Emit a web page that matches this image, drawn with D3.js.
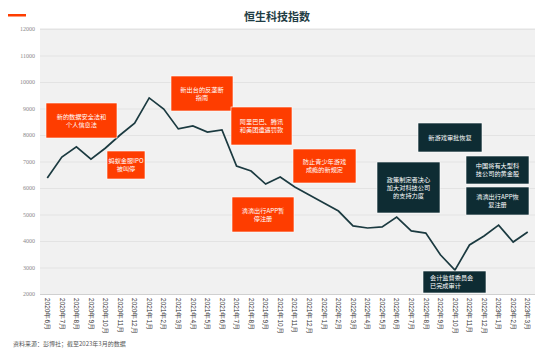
<!DOCTYPE html>
<html>
<head>
<meta charset="utf-8">
<script src="https://cdn.jsdelivr.net/npm/d3@7"></script>
<style>
  body { margin: 0; background: #fff; }
  svg { display: block; font-family: "Noto Sans CJK SC", "Noto Sans", sans-serif; }
</style>
</head>
<body>
<svg id="chart" width="554" height="353"></svg>
<script>
const months = [
  "2020年6月", "2020年7月", "2020年8月", "2020年9月", "2020年10月", "2020年11月", "2020年12月",
  "2021年1月", "2021年2月", "2021年3月", "2021年4月", "2021年5月", "2021年6月", "2021年7月",
  "2021年8月", "2021年9月", "2021年10月", "2021年11月", "2021年12月",
  "2022年1月", "2022年2月", "2022年3月", "2022年4月", "2022年5月", "2022年6月", "2022年7月",
  "2022年8月", "2022年9月", "2022年10月", "2022年11月", "2022年12月",
  "2023年1月", "2023年2月", "2023年3月"
];
const indexValues = [
  6380, 7170, 7550, 7090, 7510, 8000, 8450,
  9400, 8980, 8230, 8340, 8110, 8190, 6830,
  6640, 6150, 6415, 6040, 5740,
  5430, 5130, 4570, 4490, 4530, 4900, 4380,
  4300, 3480, 2900, 3850, 4190,
  4600, 3960, 4340
];
const yTicks = [2000, 3000, 4000, 5000, 6000, 7000, 8000, 9000, 10000, 11000, 12000];

// annotation texts (kind: "neg" = orange, "pos" = dark)
const noteTexts = [
  ["新的数据安全法和", "个人信息法"],
  ["蚂蚁金服IPO", "被叫停"],
  ["新出台的反垄断", "指南"],
  ["阿里巴巴、腾讯", "和美团遭遇罚款"],
  ["防止青少年游戏", "成瘾的新规定"],
  ["滴滴出行APP暂", "停注册"],
  ["新游戏审批恢复"],
  ["政策制定者决心", "加大对科技公司", "的支持力度"],
  ["中国将有大型科", "技公司的黄金股"],
  ["滴滴出行APP恢", "复注册"],
  ["会计监督委员会", "已完成审计"]
];
const noteKinds = ["neg", "neg", "neg", "neg", "neg", "neg", "pos", "pos", "pos", "pos", "pos"];

// box layout in pixels: [x, y, w, h]
const noteLayout = [
  [46, 103, 71, 35],
  [107, 151, 38, 28],
  [171, 76, 62, 35],
  [231, 107, 61, 38],
  [293, 149, 63, 34],
  [232, 197, 62, 35],
  [418, 123, 64, 29],
  [377, 162, 63, 51],
  [466, 156, 63, 28],
  [466, 187, 63, 28],
  [423, 271, 63, 22]
];

const orange = "#fe3d00";
const darkTeal = "#0e2c33";
const lineColor = "#1b3a40";
const plotLeft = 40;
const plotRight = 535;
const plotTop = 29;
const plotBottom = 294;

const svg = d3.select("#chart");

// header
svg.append("rect").attr("x", 8).attr("y", 14).attr("width", 18).attr("height", 2.5).attr("fill", orange);
svg.append("text")
  .attr("x", 277).attr("y", 21)
  .attr("text-anchor", "middle")
  .attr("font-size", 11).attr("font-weight", "bold")
  .attr("fill", "#1f3d45")
  .text("恒生科技指数");

const xScale = d3.scaleBand().domain(months).range([plotLeft, plotRight]);
const yScale = d3.scaleLinear().domain([2000, 12000]).range([plotBottom, plotTop]);
const xPos = (m) => xScale(m) + xScale.bandwidth() / 2;

// plot background
svg.append("rect")
  .attr("x", plotLeft).attr("y", plotTop - 1)
  .attr("width", plotRight - plotLeft).attr("height", plotBottom - plotTop + 1)
  .attr("fill", "#f1f1f1");

// y axis with gridlines
const yAxis = svg.append("g")
  .attr("transform", `translate(${plotLeft},0)`)
  .call(
    d3.axisLeft(yScale)
      .tickValues(yTicks)
      .tickFormat(d3.format("d"))
      .tickSize(-(plotRight - plotLeft))
      .tickPadding(5)
  );
yAxis.select(".domain").remove();
yAxis.selectAll(".tick line").attr("stroke", "#e3e3e3").attr("stroke-width", 1);
yAxis.select(".tick line").attr("stroke", "#d0d0d0");
yAxis.selectAll(".tick text")
  .attr("fill", "#8a8a8a")
  .attr("font-size", 6)
  .attr("font-family", "'Liberation Serif', serif");

// x axis
const xAxis = svg.append("g")
  .attr("transform", `translate(0,${plotBottom})`)
  .call(d3.axisBottom(xScale).tickSize(0).tickPadding(0));
xAxis.select(".domain").remove();
xAxis.selectAll(".tick text")
  .attr("transform", "rotate(90)")
  .attr("x", 4).attr("y", 0).attr("dy", "0.35em")
  .attr("text-anchor", "start")
  .attr("font-size", 6.5)
  .attr("fill", "#333");

// index line
svg.append("path")
  .datum(indexValues)
  .attr("fill", "none")
  .attr("stroke", lineColor)
  .attr("stroke-width", 1.7)
  .attr("stroke-linejoin", "miter")
  .attr("d", d3.line().x((d, i) => xPos(months[i])).y((d) => yScale(d)));

// annotation boxes
const notes = svg.append("g").selectAll("g")
  .data(noteTexts)
  .join("g")
  .attr("transform", (d, i) => `translate(${noteLayout[i][0]},${noteLayout[i][1]})`);

notes.append("rect")
  .attr("width", (d, i) => noteLayout[i][2])
  .attr("height", (d, i) => noteLayout[i][3])
  .attr("fill", (d, i) => (noteKinds[i] === "neg" ? orange : darkTeal))
  .attr("stroke", "#fff")
  .attr("stroke-width", 0.6);

notes.each(function (lines, i) {
  const [, , w, h] = noteLayout[i];
  const lh = 8;
  const leftAlign = i === noteTexts.length - 1;
  const t = d3.select(this).append("text")
    .attr("fill", "#fff")
    .attr("font-size", 6.2)
    .attr("text-anchor", leftAlign ? "start" : "middle");
  const y0 = h / 2 - ((lines.length - 1) * lh) / 2;
  lines.forEach((line, j) => {
    t.append("tspan")
      .attr("x", leftAlign ? 7 : w / 2)
      .attr("y", y0 + j * lh)
      .attr("dy", "0.35em")
      .text(line);
  });
});

// source
svg.append("text")
  .attr("x", 13).attr("y", 346)
  .attr("font-size", 6)
  .attr("fill", "#555")
  .text("资料来源：彭博社；截至2023年3月的数据");
</script>
</body>
</html>
